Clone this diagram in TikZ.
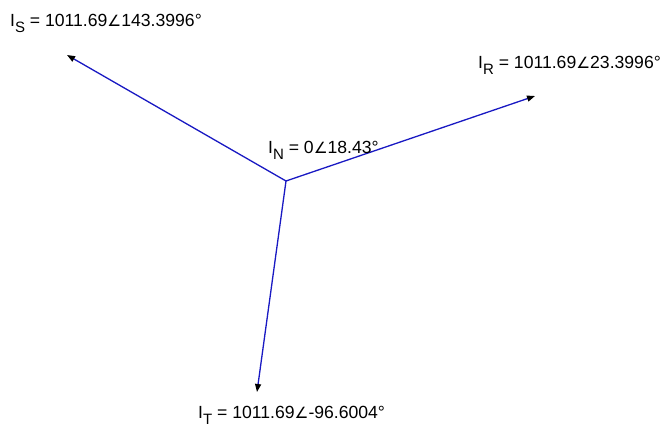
\documentclass[tikz,border=0pt]{standalone}
\usepackage{fontspec}
\setmainfont{Liberation Sans}
\newfontfamily\symfont{DejaVu Sans}
\usetikzlibrary{arrows.meta}
\newcommand{\ang}{{\symfont\fontsize{15.5}{15}\selectfont ∠}}
\newcommand{\sbs}[1]{\raisebox{-6pt}{\fontsize{15}{15}\selectfont #1}}
\tikzset{
  phasor/.style={draw={rgb,255:red,25;green,25;blue,195}, line width=1.3pt,
    -{Triangle[length=8pt,width=6pt,color=black]}},
  lbl/.style={anchor=base west, inner sep=0pt, font=\fontsize{17.6}{19}\selectfont}
}
\begin{document}
\begin{tikzpicture}[x=1pt,y=-1pt]
\useasboundingbox[fill=white] (0,0) rectangle (670,432);
\coordinate (O) at (286,181);
\coordinate (S) at (67,55);
\coordinate (R) at (535,96);
\coordinate (T) at (257,392);
\draw[phasor] (O) -- (S);
\draw[phasor] (O) -- (R);
\draw[phasor] (O) -- (T);
\node[lbl] (lS) at (10,26) {I\sbs{S} = 1011.69\ang143.3996°};
\node[lbl] (lR) at (478,68) {I\sbs{R} = 1011.69\ang23.3996°};
\node[lbl] (lN) at (268,153) {I\sbs{N} = 0\ang18.43°};
\node[lbl] (lT) at (198,418) {I\sbs{T} = 1011.69\ang-96.6004°};
\end{tikzpicture}
\end{document}
